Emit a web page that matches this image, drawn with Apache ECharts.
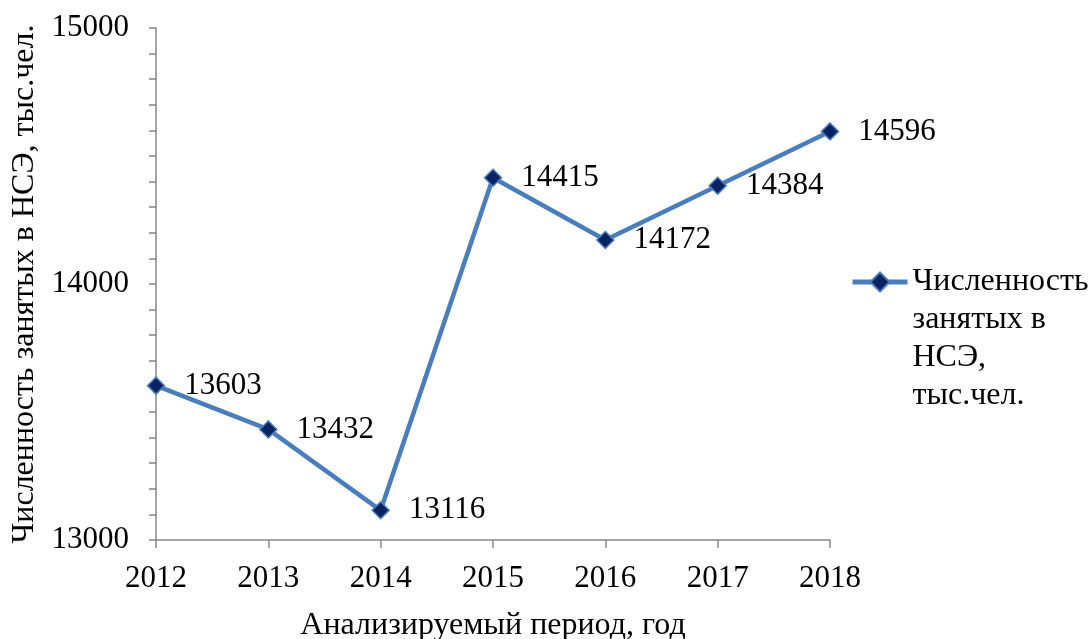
<!DOCTYPE html>
<html>
<head>
<meta charset="utf-8">
<script src="https://cdn.jsdelivr.net/npm/echarts@6/dist/echarts.min.js"></script>
<style>
html,body{margin:0;padding:0;background:#fff;overflow:hidden;}
#main{width:1088px;height:639px;}
</style>
</head>
<body>
<div id="main"></div>
<script>
var years = ['2012', '2013', '2014', '2015', '2016', '2017', '2018'];
var employed = [13603, 13432, 13116, 14415, 14172, 14384, 14596];
var seriesName = 'Численность занятых в НСЭ, тыс.чел.';
var legendLines = ['Численность', 'занятых в', 'НСЭ,', 'тыс.чел.'];
var xAxisTitle = 'Анализируемый период, год';
var yAxisTitle = 'Численность занятых в НСЭ, тыс.чел.';

var FONT = 'Liberation Serif';
var chart = echarts.init(document.getElementById('main'), null, {renderer: 'canvas'});
chart.setOption({
  animation: false,
  backgroundColor: '#ffffff',
  grid: {left: 156, right: 258, top: 28, bottom: 99, containLabel: false, outerBoundsMode: 'none'},
  legend: {
    left: 850, top: 149, padding: 0,
    itemWidth: 55, itemHeight: 24,
    lineStyle: {width: 5, color: '#4A7EBB'},
    formatter: function () { return '\n\n\n' + legendLines.join('\n'); },
    textStyle: {fontFamily: FONT, fontSize: 32, color: '#000', lineHeight: 38}
  },
  xAxis: {
    type: 'category', data: years, boundaryGap: false,
    name: xAxisTitle, nameLocation: 'middle', nameGap: 70,
    nameTextStyle: {fontFamily: FONT, fontSize: 32, color: '#000'},
    axisLine: {lineStyle: {color: '#868686', width: 1.5}},
    axisTick: {show: true, length: 8, lineStyle: {color: '#868686', width: 1.5}},
    axisLabel: {fontFamily: FONT, fontSize: 31, color: '#000', margin: 23},
    splitLine: {show: false}
  },
  yAxis: {
    type: 'value', min: 13000, max: 15000, interval: 100,
    name: yAxisTitle, nameLocation: 'middle', nameGap: 112,
    nameTextStyle: {fontFamily: FONT, fontSize: 32, color: '#000'},
    axisLine: {show: true, lineStyle: {color: '#868686', width: 1.5}},
    axisTick: {show: true, length: 7, lineStyle: {color: '#868686', width: 1.5}},
    axisLabel: {fontFamily: FONT, fontSize: 31, color: '#000', margin: 27,
      formatter: function (v) { return v % 1000 === 0 ? String(v) : ''; }},
    splitLine: {show: false}
  },
  series: [{
    name: seriesName, type: 'line', data: employed,
    lineStyle: {color: '#4A7EBB', width: 4.5},
    itemStyle: {color: '#0A2463', borderColor: '#4A7EBB', borderWidth: 1.5},
    symbol: 'diamond', symbolSize: 17,
    label: {show: true, position: 'right', distance: 19, fontFamily: FONT, fontSize: 31, color: '#000'}
  }]
});
</script>
</body>
</html>
